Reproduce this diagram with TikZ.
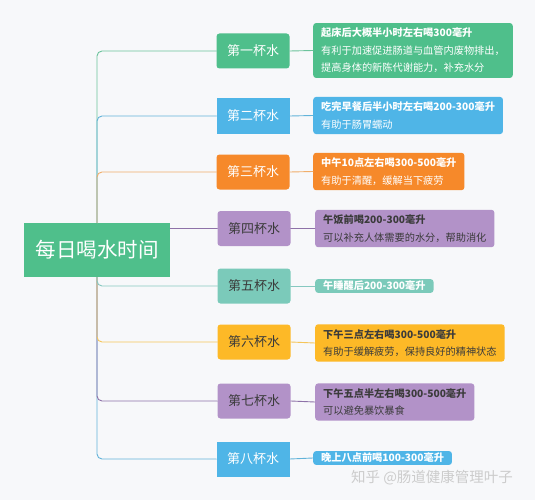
\documentclass[tikz,border=0pt]{standalone}
\usepackage{fontspec}
\setmainfont{Noto Sans CJK SC}
\definecolor{cgreen}{HTML}{4FBF8B}
\definecolor{cblue}{HTML}{4FB5E7}
\definecolor{corange}{HTML}{F6892A}
\definecolor{cpurple}{HTML}{B292C8}
\definecolor{cteal}{HTML}{7BCABA}
\definecolor{cyellow}{HTML}{FDB927}
\definecolor{cdark}{HTML}{3B3B3B}
\definecolor{cback}{HTML}{F7F8FA}
\definecolor{lgreen}{HTML}{6CC39C}
\definecolor{lblue}{HTML}{62B3D9}
\definecolor{lorange}{HTML}{F0AE6A}
\definecolor{lpurple}{HTML}{8E72A8}
\definecolor{lteal}{HTML}{86C8C0}
\definecolor{lyellow}{HTML}{F5C55A}
\begin{document}
\begin{tikzpicture}[x=1pt,y=-1pt,line cap=round,line join=round,
  cup/.style={minimum width=73pt,minimum height=35pt,inner sep=0pt,
    font=\fontsize{13}{13}\selectfont},
  tip/.style={anchor=west,align=left,inner xsep=8pt,inner ysep=5pt,
    rounded corners=3pt,font=\fontsize{10.2}{17.5}\selectfont},
  link/.style={line width=0.9pt,rounded corners=5pt}]
  \useasboundingbox[fill=cback] (0,0) rectangle (535,500);
  % root
  \node[fill=cgreen,text=white,minimum width=146pt,minimum height=54pt,inner sep=0pt,
    font=\fontsize{20.5}{20.5}\selectfont] (root) at (97,250) {每日喝水时间};
  % cups
  \node[cup,fill=cgreen,text=white,rounded corners=3pt] (c1) at (253,51) {第一杯水};
  \node[cup,fill=cblue,text=white] (c2) at (253,116) {第二杯水};
  \node[cup,fill=corange,text=white,rounded corners=3pt] (c3) at (253,172) {第三杯水};
  \node[cup,fill=cpurple,text=cdark,rounded corners=3pt] (c4) at (254,228.5) {第四杯水};
  \node[cup,fill=cteal,text=cdark,rounded corners=3pt] (c5) at (254,286) {第五杯水};
  \node[cup,fill=cyellow,text=cdark,rounded corners=3pt] (c6) at (254,342) {第六杯水};
  \node[cup,fill=cpurple,text=cdark,rounded corners=3pt] (c7) at (254,401) {第七杯水};
  \node[cup,fill=cblue,text=white] (c8) at (253,459) {第八杯水};
  % tips
  \node[tip,fill=cgreen,text=white] (t1) at (313,50.5)
    {\textbf{起床后大概半小时左右喝300毫升}\\有利于加速促进肠道与血管内废物排出，\\提高身体的新陈代谢能力，补充水分};
  \node[tip,fill=cblue,text=white] (t2) at (313,115.5)
    {\textbf{吃完早餐后半小时左右喝200-300毫升}\\有助于肠胃蠕动};
  \node[tip,fill=corange,text=white] (t3) at (313,171.5)
    {\textbf{中午10点左右喝300-500毫升}\\有助于清醒，缓解当下疲劳};
  \node[tip,fill=cpurple,text=cdark] (t4) at (315,228.5)
    {\textbf{午饭前喝200-300毫升}\\可以补充人体需要的水分，帮助消化};
  \node[tip,fill=cteal,text=white,inner ysep=2pt] (t5) at (315,286)
    {\textbf{午睡醒后200-300毫升}};
  \node[tip,fill=cyellow,text=cdark] (t6) at (315,343)
    {\textbf{下午三点左右喝300-500毫升}\\有助于缓解疲劳，保持良好的精神状态};
  \node[tip,fill=cpurple,text=cdark] (t7) at (315,402)
    {\textbf{下午五点半左右喝300-500毫升}\\可以避免暴饮暴食};
  \node[tip,fill=cblue,text=white,inner ysep=2pt] (t8) at (313,458)
    {\textbf{晚上八点前喝100-300毫升}};
  % branches
  \draw[link,lgreen] (root.north) |- (c1.west);
  \draw[link,lblue] (root.north) |- (c2.west);
  \draw[link,lorange] (root.north) |- (c3.west);
  \draw[link,lpurple] (root.east |- c4.west) -- (c4.west);
  \draw[link,lblue] (root.south) |- (c8.west);
  \draw[link,lpurple] (root.south) |- (c7.west);
  \draw[link,lyellow] (root.south) |- (c6.west);
  \draw[link,lteal] (root.south) |- (c5.west);
  \draw[link,lgreen] (c1.east) -- (t1.west);
  \draw[link,lblue] (c2.east) -- (t2.west);
  \draw[link,lorange] (c3.east) -- (t3.west);
  \draw[link,lpurple] (c4.east) -- (t4.west);
  \draw[link,lteal] (c5.east) -- (t5.west);
  \draw[link,lyellow] (c6.east) -- (t6.west);
  \draw[link,lpurple] (c7.east) -- (t7.west);
  \draw[link,lblue] (c8.east) -- (t8.west);
  % watermark
  \node[text=black!20,font=\fontsize{14.5}{14.5}\selectfont] (mark) at (432,478) {知乎 @肠道健康管理叶子};
\end{tikzpicture}
\end{document}
